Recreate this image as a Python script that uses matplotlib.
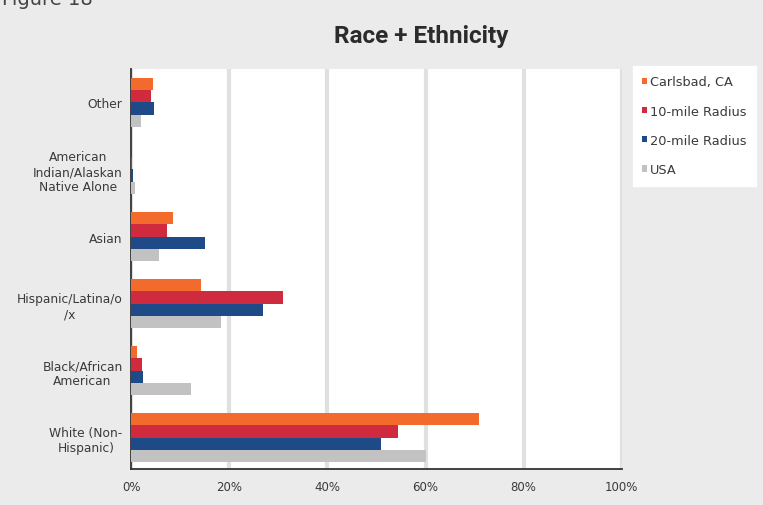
import numpy as np
import matplotlib.pyplot as plt
from matplotlib.ticker import PercentFormatter

# categories listed bottom -> top as they appear on the y axis
categories = [
    "White (Non-\nHispanic)",
    "Black/African\nAmerican",
    "Hispanic/Latina/o\n/x",
    "Asian",
    "American\nIndian/Alaskan\nNative Alone",
    "Other",
]
series_names = ["Carlsbad, CA", "10-mile Radius", "20-mile Radius", "USA"]
carlsbad = [70.8, 1.3, 14.3, 8.6, 0.1, 4.5]
radius_10 = [54.4, 2.2, 31.0, 7.4, 0.2, 4.0]
radius_20 = [51.0, 2.4, 26.8, 15.0, 0.5, 4.7]
usa = [60.1, 12.3, 18.4, 5.7, 0.9, 2.0]

colors = ["#f26a2c", "#d02a3e", "#1f4a88", "#c2c2c2"]
bg = "#ebebeb"

fig = plt.figure(figsize=(7.63, 5.06), dpi=100, facecolor=bg)
ax = fig.add_axes([0.1717, 0.0711, 0.6433, 0.7906])
ax.set_facecolor("white")

y = np.arange(len(categories))
h = 0.18
offsets = [1.5 * h, 0.5 * h, -0.5 * h, -1.5 * h]
for vals, name, c, off in zip([carlsbad, radius_10, radius_20, usa],
                              series_names, colors, offsets):
    ax.barh(y + off, vals, height=h, color=c, label=name, zorder=3)

ax.set_xlim(0, 100)
ax.set_ylim(-0.47, 5.5)
ax.set_xticks(np.arange(0, 101, 20))
ax.xaxis.set_major_formatter(PercentFormatter(decimals=0))
ax.set_yticks(y)
ax.set_yticklabels(categories, multialignment="center")
ax.tick_params(length=0, labelsize=8.8, labelcolor="#3a3a3a")
ax.tick_params(axis="x", pad=8, labelsize=8.5)
ax.tick_params(axis="y", pad=6)
ax.grid(axis="x", color="#e0e0e0", linewidth=3, zorder=0)

for s in ["top", "right"]:
    ax.spines[s].set_visible(False)
for s in ["left", "bottom"]:
    ax.spines[s].set_color("#333333")
    ax.spines[s].set_linewidth(1.3)

fig.text(0.5524, 0.927, "Race + Ethnicity", ha="center", va="center",
         fontsize=17.5, fontweight="bold", color="#2b2b2b",
         family=["Roboto", "DejaVu Sans"])
# caption running off the top edge
fig.text(0.003, 0.990, "Figure 18", ha="left", va="baseline",
         fontsize=14, color="#444444")

leg = fig.legend(loc="upper left", bbox_to_anchor=(0.829, 0.868),
                 frameon=True, fancybox=False, framealpha=1, fontsize=9.3,
                 handlelength=0.4, handleheight=0.4, handletextpad=0.2,
                 labelspacing=1.25, borderpad=0.75, borderaxespad=0.0,
                 labelcolor="#3a3a3a")
leg.get_frame().set_facecolor("white")
leg.get_frame().set_edgecolor("white")

fig.savefig("out.png", dpi=100, facecolor=bg)
